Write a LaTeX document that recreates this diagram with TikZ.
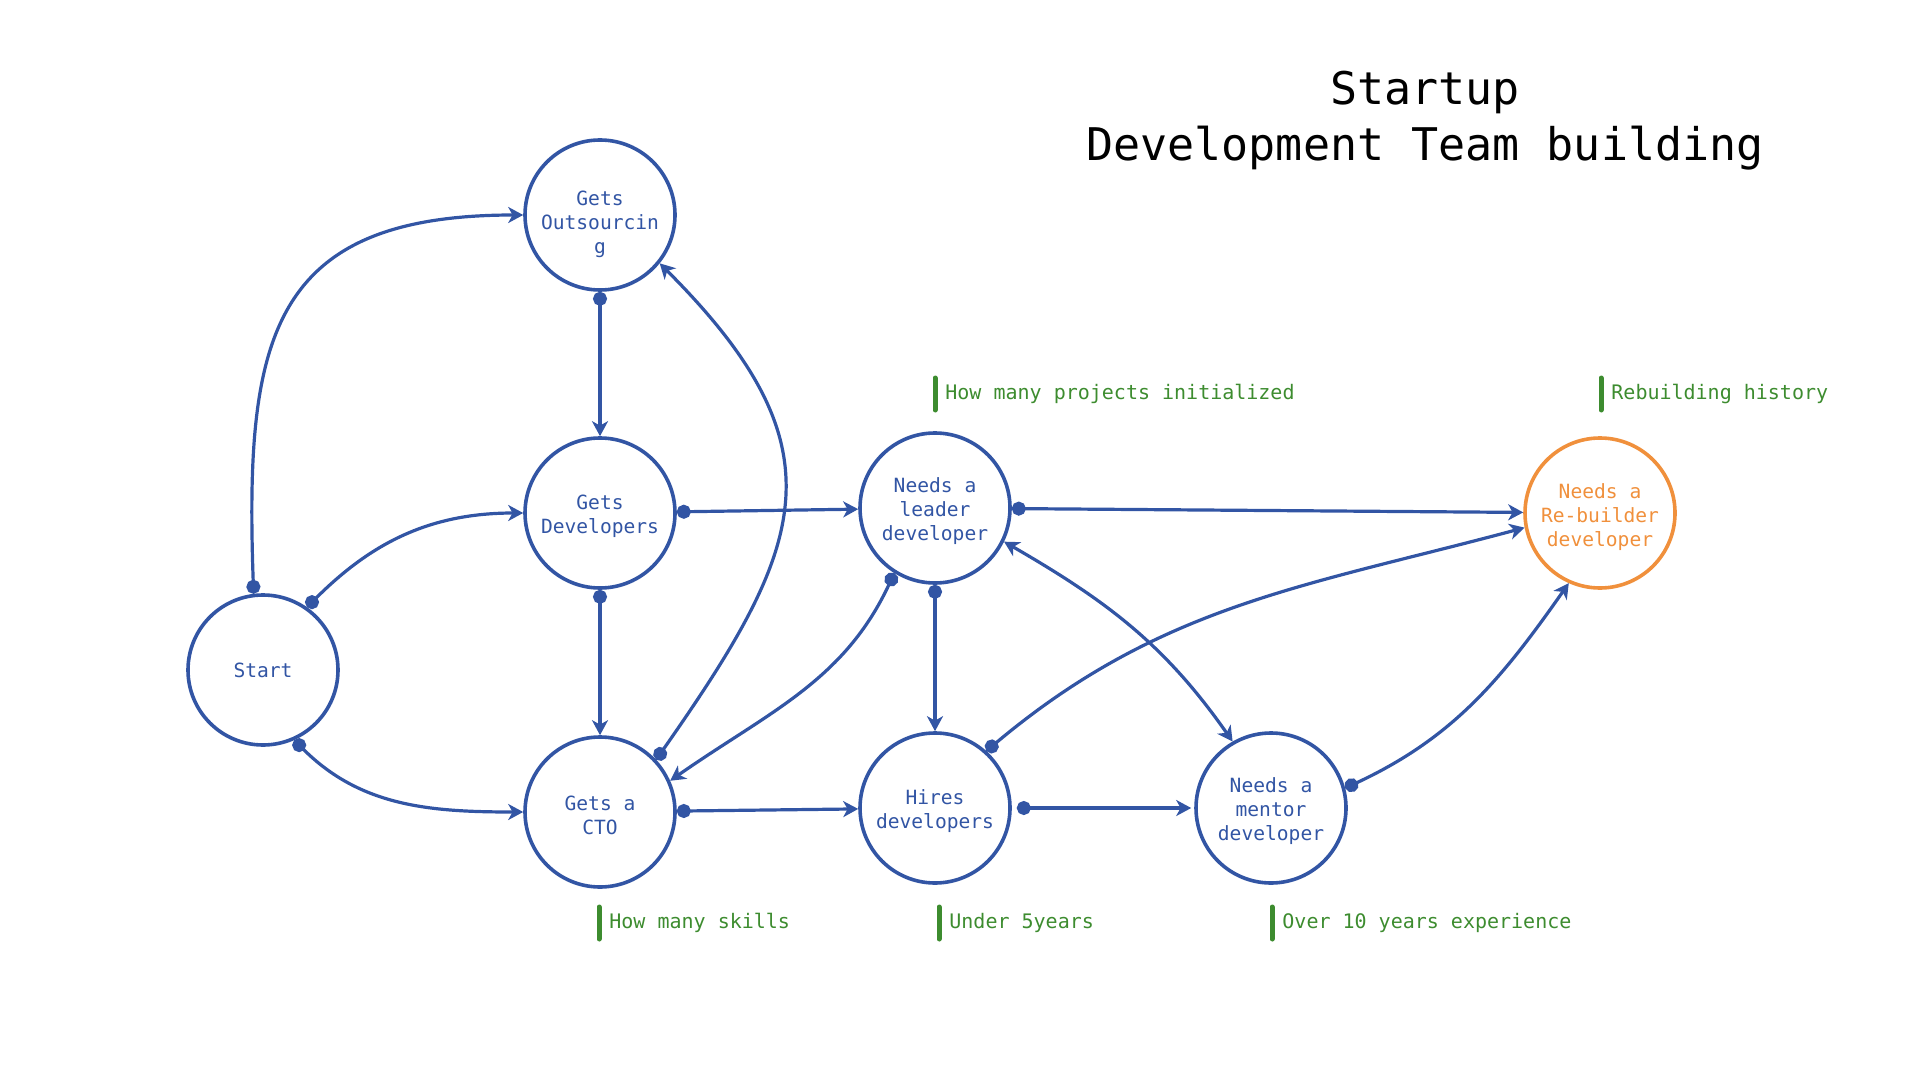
\documentclass[tikz,border=0pt]{standalone}
\usepackage{fontspec}
\setmonofont{DejaVu Sans Mono}
\usetikzlibrary{arrows.meta}
\definecolor{flowblue}{HTML}{3255A4}
\definecolor{flowgreen}{HTML}{3D8C2F}
\definecolor{floworange}{HTML}{F0903C}
\newcommand\toppad[1]{\rule{0pt}{#1}}
\begin{document}
\begin{tikzpicture}[x=0.5pt,y=0.5pt,
    main/.style={draw=flowblue,circle,line width=1.8pt,minimum size=75pt,inner sep=0pt,
      align=center,text=flowblue,font=\ttfamily\fontsize{9.8}{12}\selectfont},
    conn/.style={draw=flowblue,line width=1.6pt,{Circle[length=7pt]}-{Stealth[length=7.5pt,width=8pt,inset=2.2pt]}},
    both/.style={draw=flowblue,line width=1.6pt,{Stealth[length=7.5pt,width=8pt,inset=2.2pt]}-{Stealth[length=7.5pt,width=8pt,inset=2.2pt]}},
    tag/.style={anchor=west,inner sep=0pt,text=flowgreen,font=\ttfamily\fontsize{10}{12}\selectfont},
    tagbar/.style={draw=flowgreen,line width=2.5pt,line cap=round}]
  \useasboundingbox (0,0) rectangle (1920,-1080);
  % title
  \node[font=\ttfamily\fontsize{22.5}{28}\selectfont,align=center] (title) at (1425,-121) {Startup\\Development Team building};
  % states
  \node[main] (start) at (263,-670) {Start};
  \node[main] (outs) at (600,-215) {\toppad{17pt}Gets\\Outsourcin\\g};
  \node[main] (devs) at (600,-513) {\toppad{11pt}Gets\\Developers};
  \node[main] (cto) at (600,-812) {\toppad{11pt}Gets a\\CTO};
  \node[main] (leader) at (935,-508) {\toppad{11pt}Needs a\\leader\\developer};
  \node[main] (hires) at (935,-808) {\toppad{11pt}Hires\\developers};
  \node[main] (mentor) at (1271,-808) {\toppad{11pt}Needs a\\mentor\\developer};
  \node[main,draw=floworange,text=floworange] (rebuild) at (1600,-513) {\toppad{12pt}Needs a\\Re-builder\\developer};
  % notes
  \node[tag] (projects) at (945,-394) {How many projects initialized};
  \node[tag] (history) at (1611,-394) {Rebuilding history};
  \node[tag] (skills) at (609,-923) {How many skills};
  \node[tag] (under) at (949,-923) {Under 5years};
  \node[tag] (over) at (1282,-923) {Over 10 years experience};
  \foreach \t in {projects,history,skills,under,over}
    \draw[tagbar] ([xshift=-5pt,yshift=8pt]\t.west) -- ([xshift=-5pt,yshift=-8pt]\t.west);
  % transitions
  \draw[conn] (start.97) to[out=92,in=180,looseness=1.4] (outs.west);
  \draw[conn] (start.55) to[out=45,in=180] (devs.west);
  \draw[conn] (start.-66) to[out=-45,in=180] (cto.west);
  \draw[conn] (outs) -- (devs);
  \draw[conn] (devs) -- (cto);
  \draw[conn] (cto.43) to[out=55,in=-45,looseness=1.35] (outs.-39);
  \draw[conn] (devs) -- (leader);
  \draw[conn] (leader.-122) to[out=-115,in=35] (cto.24);
  \draw[conn] (leader) -- (rebuild);
  \draw[conn] (leader) -- (hires);
  \draw[both] (leader.-26) to[out=-30,in=125] (mentor.120);
  \draw[conn] (cto) -- (hires);
  \draw[conn,shorten <=2.5pt,shorten >=1.5pt] (hires) -- (mentor);
  \draw[conn] (hires.48) to[out=40,in=-165] (rebuild.-169);
  \draw[conn] (mentor.15) to[out=25,in=-125] (rebuild.-114);
\end{tikzpicture}
\end{document}
